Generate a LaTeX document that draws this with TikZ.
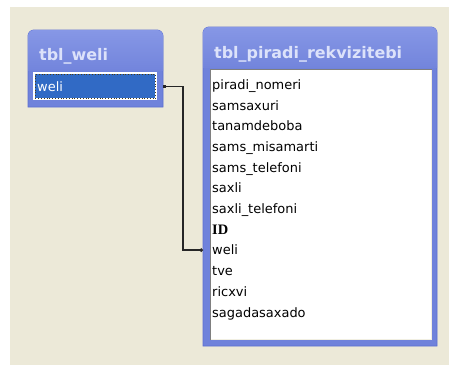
\documentclass[tikz,border=0pt]{standalone}
\usepackage{fontspec}
\setmainfont{DejaVu Sans}
\newfontfamily\idfont{Liberation Serif}
\usetikzlibrary{arrows.meta}
\definecolor{bgbeige}{HTML}{ECE9D8}
\definecolor{tblblue}{HTML}{6F82DB}
\definecolor{tbledge}{HTML}{5C6FD2}
\definecolor{titletop}{HTML}{8697E6}
\definecolor{titlebot}{HTML}{7385DC}
\definecolor{titletext}{HTML}{DCE2FA}
\definecolor{selblue}{HTML}{316AC5}
\definecolor{focusdot}{HTML}{4A3C18}
\definecolor{sunkdark}{HTML}{7F7F7F}
\definecolor{sunklight}{HTML}{F1EFE2}
\begin{document}
\begin{tikzpicture}[x=1bp,y=-1bp,
  title/.style={anchor=base west, inner sep=0pt, font=\fontsize{16}{19}\selectfont\bfseries, text=titletext},
  field/.style={anchor=base west, inner sep=0pt, font=\fontsize{13}{15}\selectfont, text=black},
  tblframe/.style={fill=tblblue, draw=tbledge, line width=0.8bp},
  tblnode/.style={inner sep=0pt, anchor=north west},
  link/.style={draw=black!85, line width=1.2bp}]

\useasboundingbox (0,0) rectangle (449,365);
\fill[white] (0,0) rectangle (449,365);
\fill[bgbeige] (10,7) rectangle (449,365);

% ---------- left table: tbl_weli ----------
\node[tblnode, minimum width=135bp, minimum height=77bp] (tw) at (28,30) {};
\path[tblframe] (28,107) -- (28,36) arc[start angle=180,end angle=270,radius=6]
  -- (157,30) arc[start angle=270,end angle=360,radius=6] -- (163,107) -- cycle;
\begin{scope}
  \clip (28,107) -- (28,36) arc[start angle=180,end angle=270,radius=6]
  -- (157,30) arc[start angle=270,end angle=360,radius=6] -- (163,107) -- cycle;
  \shade[top color=titletop, bottom color=titlebot] (28,30) rectangle (163,70);
\end{scope}
\node[title] (twt) at (39,60) {tbl\_weli};
\fill[white] (33,72) rectangle (157,100);
\node[tblnode, fill=selblue, draw=focusdot, dotted, line width=0.8bp,
  minimum width=120bp, minimum height=24bp] (selw) at (35,74) {};
\node[field, text=white] (lweli) at (37,91) {weli};

% ---------- right table: tbl_piradi_rekvizitebi ----------
\node[tblnode, minimum width=234bp, minimum height=319bp] (tr) at (203,27) {};
\path[tblframe] (203,346) -- (203,33) arc[start angle=180,end angle=270,radius=6]
  -- (431,27) arc[start angle=270,end angle=360,radius=6] -- (437,346) -- cycle;
\begin{scope}
  \clip (203,346) -- (203,33) arc[start angle=180,end angle=270,radius=6]
  -- (431,27) arc[start angle=270,end angle=360,radius=6] -- (437,346) -- cycle;
  \shade[top color=titletop, bottom color=titlebot] (203,27) rectangle (437,67);
\end{scope}
\node[title] (trt) at (214,58) {tbl\_piradi\_rekvizitebi};
\fill[white] (210,69) rectangle (432,340);
\draw[sunklight, line width=1.5bp] (210,339.5) -- (431.5,339.5) -- (431.5,69);
\draw[sunkdark, line width=1bp] (210.5,340) -- (210.5,69.5) -- (432,69.5);

\foreach \t [count=\i from 0] in {piradi\_nomeri,samsaxuri,tanamdeboba,sams\_misamarti,sams\_telefoni,saxli,saxli\_telefoni,ID,weli,tve,ricxvi,sagadasaxado}{
  \ifnum\i=7
    \node[field, font=\fontsize{14.5}{16}\selectfont\idfont\bfseries] (f\i) at (212,89.3+\i*20.7) {\t};
  \else
    \node[field] (f\i) at (212,89.3+\i*20.7) {\t};
  \fi
}

% ---------- relationship connector ----------
\draw[link, {Square[length=2.5bp,width=3bp]}-{Circle[length=3.5bp]}]
  (tw.east |- selw.center) -- ++(19.5,0) |- (tr.west |- f8.center);
\end{tikzpicture}
\end{document}
